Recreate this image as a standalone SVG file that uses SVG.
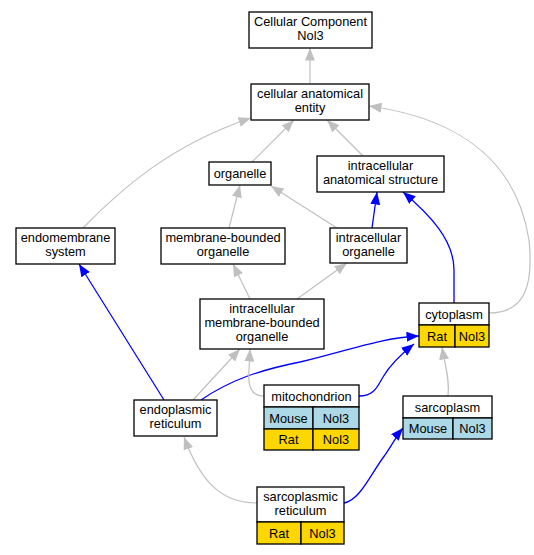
<svg xmlns="http://www.w3.org/2000/svg" width="534" height="555" viewBox="0 0 534 555">
<defs>
<style>
.n rect{fill:#fff;stroke:#000;stroke-width:1.3}
.n rect.b{fill:#add8e6}
.n rect.g{fill:#ffd700}
text{font-family:"Liberation Sans",Arial,sans-serif;font-size:12.8px;text-anchor:middle;fill:#000}
.e path{fill:none}
.gr{stroke:#c0c0c0;stroke-width:1.2}
.bl{stroke:#0000ff;stroke-width:1.3}
</style>
<marker id="ag" markerUnits="userSpaceOnUse" markerWidth="14" markerHeight="12" refX="12.5" refY="5" orient="auto"><path d="M0,0 L12.5,5 L0,10 z" fill="#c0c0c0"/></marker>
<marker id="ab" markerUnits="userSpaceOnUse" markerWidth="14" markerHeight="12" refX="12.5" refY="5" orient="auto"><path d="M0,0 L12.5,5 L0,10 z" fill="#0000ff"/></marker>
</defs>
<rect width="534" height="555" fill="#fff"/>
<g id="edges" class="e">
<path class="gr" marker-end="url(#ag)" d="M310,84 L310,48"/>
<path class="gr" marker-end="url(#ag)" d="M252,162 L294,120"/>
<path class="gr" marker-end="url(#ag)" d="M363,156 L327,120"/>
<path class="gr" marker-end="url(#ag)" d="M83,228 C120,190 170,145 251,118"/>
<path class="gr" marker-end="url(#ag)" d="M489,313 C528,313 533,280 529,240 C518,170 470,120 369,106"/>
<path class="gr" marker-end="url(#ag)" d="M229,228 L240,185"/>
<path class="gr" marker-end="url(#ag)" d="M337,228 L271,186"/>
<path class="bl" marker-end="url(#ab)" d="M372,228 L377,192"/>
<path class="bl" marker-end="url(#ab)" d="M454,303 L454,270 C454,240 430,215 403,192"/>
<path class="gr" marker-end="url(#ag)" d="M250,299 L233,264"/>
<path class="gr" marker-end="url(#ag)" d="M297,299 L347,263"/>
<path class="bl" marker-end="url(#ab)" d="M164,400 L79,264"/>
<path class="gr" marker-end="url(#ag)" d="M193,400 L240,349"/>
<path class="bl" marker-end="url(#ab)" d="M201,400 C230,380 260,370 300,362 C350,350 380,338 419,336"/>
<path class="gr" marker-end="url(#ag)" d="M264,396 C250,396 248,385 249,370 L250,349"/>
<path class="bl" marker-end="url(#ab)" d="M359,396 C375,396 378,385 383,377 C390,365 400,355 414,344"/>
<path class="gr" marker-end="url(#ag)" d="M448,396 C450,380 445,365 442,347"/>
<path class="gr" marker-end="url(#ag)" d="M257,503 C220,503 200,480 184,437"/>
<path class="bl" marker-end="url(#ab)" d="M344,503 C360,500 370,475 385,455 C392,445 397,435 403,428"/>
</g>
<g id="cellular_component" class="n"><rect x="249" y="12" width="123" height="36"/><text x="310.5" y="26">Cellular Component</text><text x="310.5" y="39.5">Nol3</text></g>
<g id="cellular_anatomical_entity" class="n"><rect x="251" y="84" width="118" height="36"/><text x="310" y="98">cellular anatomical</text><text x="310" y="111.5">entity</text></g>
<g id="organelle" class="n"><rect x="209" y="162" width="62" height="23"/><text x="240" y="178">organelle</text></g>
<g id="intracellular_anatomical_structure" class="n"><rect x="317" y="156" width="127" height="36"/><text x="380.5" y="170">intracellular</text><text x="380.5" y="183.5">anatomical structure</text></g>
<g id="endomembrane_system" class="n"><rect x="16" y="228" width="99" height="36"/><text x="65.5" y="242">endomembrane</text><text x="65.5" y="255.5">system</text></g>
<g id="membrane_bounded_organelle" class="n"><rect x="161" y="228" width="124" height="36"/><text x="223" y="242">membrane-bounded</text><text x="223" y="255.5">organelle</text></g>
<g id="intracellular_organelle" class="n"><rect x="330" y="228" width="77" height="35"/><text x="368.5" y="242">intracellular</text><text x="368.5" y="255.5">organelle</text></g>
<g id="intracellular_membrane_bounded_organelle" class="n"><rect x="200" y="299" width="124" height="50"/><text x="262" y="313">intracellular</text><text x="262" y="327">membrane-bounded</text><text x="262" y="341">organelle</text></g>
<g id="cytoplasm" class="n"><rect x="419" y="303" width="70" height="22"/><rect class="g" x="419" y="325" width="36" height="22"/><rect class="g" x="455" y="325" width="34" height="22"/><text x="454" y="318.5">cytoplasm</text><text x="437" y="340.5">Rat</text><text x="472" y="340.5">Nol3</text></g>
<g id="endoplasmic_reticulum" class="n"><rect x="134" y="400" width="83" height="36"/><text x="175.5" y="414">endoplasmic</text><text x="175.5" y="427.5">reticulum</text></g>
<g id="mitochondrion" class="n"><rect x="264" y="385" width="95" height="22"/><rect class="b" x="264" y="407" width="49" height="22"/><rect class="b" x="313" y="407" width="46" height="22"/><rect class="g" x="264" y="429" width="49" height="21"/><rect class="g" x="313" y="429" width="46" height="21"/><text x="311.5" y="400.5">mitochondrion</text><text x="288.5" y="422.5">Mouse</text><text x="336" y="422.5">Nol3</text><text x="288.5" y="444">Rat</text><text x="336" y="444">Nol3</text></g>
<g id="sarcoplasm" class="n"><rect x="403" y="396" width="89" height="22"/><rect class="b" x="403" y="418" width="50" height="21"/><rect class="b" x="453" y="418" width="39" height="21"/><text x="447.5" y="411.5">sarcoplasm</text><text x="428" y="433">Mouse</text><text x="472.5" y="433">Nol3</text></g>
<g id="sarcoplasmic_reticulum" class="n"><rect x="257" y="487" width="87" height="35"/><rect class="g" x="257" y="522" width="44" height="22"/><rect class="g" x="301" y="522" width="43" height="22"/><text x="300.5" y="501">sarcoplasmic</text><text x="300.5" y="515">reticulum</text><text x="279" y="537.5">Rat</text><text x="322.5" y="537.5">Nol3</text></g>
</svg>
